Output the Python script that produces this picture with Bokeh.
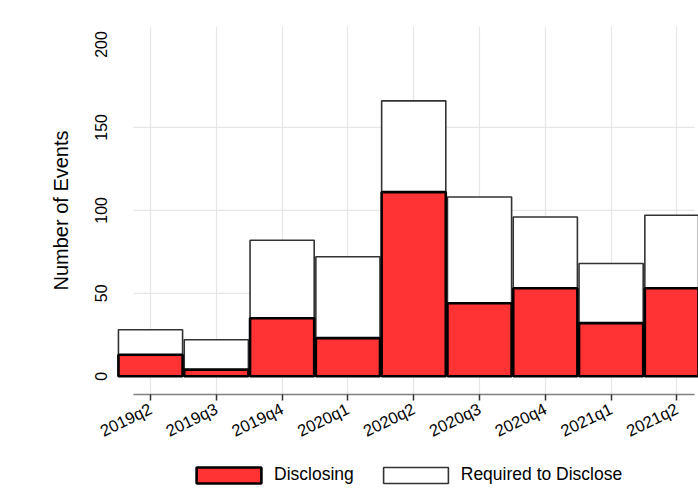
import math
from bokeh.plotting import figure
from bokeh.layouts import column
from bokeh.models import (ColumnDataSource, Range1d, FixedTicker, Legend, LegendItem)
from bokeh.embed import file_html
from bokeh.resources import INLINE

# ---- data ----
quarters = ["2019q2", "2019q3", "2019q4", "2020q1", "2020q2",
            "2020q3", "2020q4", "2021q1", "2021q2"]
required = [28, 22, 82, 72, 166, 108, 96, 68, 97]
disclosing = [13, 4, 35, 23, 111, 44, 53, 32, 53]
y_ticks = [0, 50, 100, 150, 200]
y_grid = [50, 100, 150]
series_names = ["Disclosing", "Required to Disclose"]

xs = list(range(len(quarters)))
src = ColumnDataSource(dict(x=xs, req=required, dis=disclosing))

FONT = "Liberation Sans"
RED = "#FF3333"

p = figure(width=698, height=450, output_backend="svg", toolbar_location=None,
           x_range=Range1d(-0.517, 8.328), y_range=Range1d(-11, 210.8),
           min_border_left=116, min_border_right=0, min_border_top=26,
           min_border_bottom=55)
p.outline_line_color = None
p.background_fill_color = "white"
p.border_fill_color = "white"

# grid
p.xgrid.ticker = FixedTicker(ticks=xs)
p.xgrid.grid_line_color = "#E6E6E6"
p.xgrid.grid_line_width = 1.2
p.ygrid.grid_line_color = None
x_lo, x_hi = -0.26, 8.27
gsrc = ColumnDataSource(dict(y=y_grid, x0=[x_lo] * len(y_grid), x1=[x_hi] * len(y_grid)))
p.segment(x0="x0", x1="x1", y0="y", y1="y", source=gsrc,
          line_color="#E6E6E6", line_width=1.2)

# bars
req_style = dict(fill_color="white", line_color="#333333", line_width=1.6)
dis_style = dict(fill_color=RED, line_color="black", line_width=2.6)
p.vbar(x="x", top="req", bottom=0, width=0.975, source=src, **req_style)
p.vbar(x="x", top="dis", bottom=0, width=0.975, source=src, **dis_style)

# x axis
xa = p.xaxis[0]
xa.ticker = FixedTicker(ticks=xs)
xa.major_label_overrides = {i: q for i, q in enumerate(quarters)}
xa.major_label_orientation = math.radians(26)
xa.major_label_text_font = FONT
xa.major_label_text_font_size = "16.5px"
xa.major_label_text_color = "black"
xa.axis_line_color = "#808080"
xa.axis_line_width = 1.6
xa.major_tick_line_color = "#333333"
xa.major_tick_line_width = 1.5
xa.major_tick_out = 6
xa.major_tick_in = 0
xa.minor_tick_line_color = None
xa.bounds = (x_lo, x_hi)
xa.major_label_standoff = 7

# y axis
ya = p.yaxis[0]
ya.ticker = FixedTicker(ticks=y_ticks)
ya.major_label_orientation = "vertical"
ya.major_label_text_font = FONT
ya.major_label_text_font_size = "16px"
ya.major_label_text_color = "black"
ya.axis_line_color = None
ya.major_tick_line_color = None
ya.minor_tick_line_color = None
ya.major_tick_out = 0
ya.major_label_standoff = 9
ya.axis_label = "Number of Events"
ya.axis_label_text_font = FONT
ya.axis_label_text_font_size = "20px"
ya.axis_label_text_font_style = "normal"
ya.axis_label_text_color = "black"
ya.axis_label_standoff = 21

# legend strip below the chart (frame aligned with the chart's frame)
lf = figure(width=698, height=39, output_backend="svg", toolbar_location=None,
            x_range=Range1d(0, 1), y_range=Range1d(0, 1),
            min_border_left=116, min_border_right=0, min_border_top=0,
            min_border_bottom=0)
lf.axis.visible = False
lf.grid.visible = False
lf.outline_line_color = None
lf.background_fill_color = "white"
lf.border_fill_color = "white"
# legend proxies: style only, no drawable geometry
proxy = ColumnDataSource(dict(x=[float("nan")], top=[float("nan")]))
l_dis = lf.vbar(x="x", top="top", bottom=0, width=0.975, source=proxy, **dis_style)
l_req = lf.vbar(x="x", top="top", bottom=0, width=0.975, source=proxy, **req_style)

legend = Legend(items=[LegendItem(label=series_names[0], renderers=[l_dis]),
                       LegendItem(label=series_names[1], renderers=[l_req])],
                orientation="horizontal", location=(72, 4),
                glyph_width=81, glyph_height=20, label_standoff=5, spacing=21,
                label_text_font=FONT, label_text_font_size="17.5px",
                label_text_color="black", border_line_color=None,
                background_fill_alpha=0, padding=0, margin=0)
lf.add_layout(legend, "center")

layout = column(p, lf, spacing=0)
open("out.html", "w").write(file_html(layout, INLINE))
